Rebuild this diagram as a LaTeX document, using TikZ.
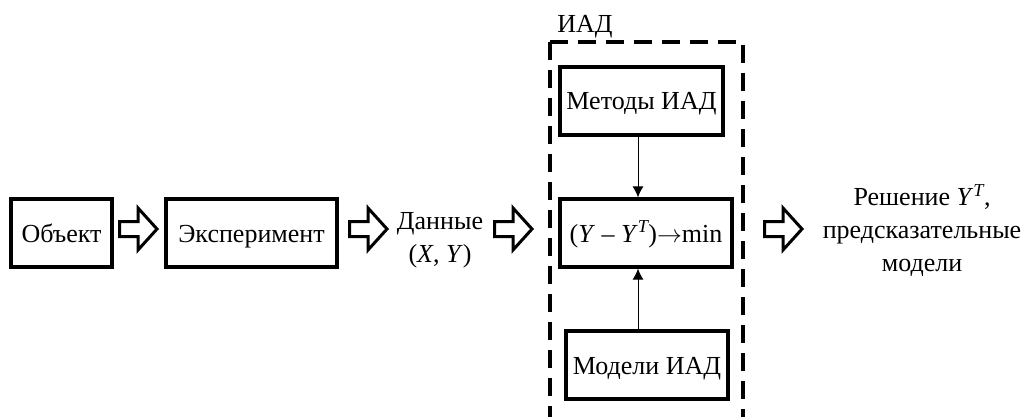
\documentclass[tikz,border=0pt]{standalone}
\usepackage{fontspec}
\setmainfont{Liberation Serif}
\usetikzlibrary{arrows.meta}
\newcommand{\supT}{\textsuperscript{\itshape T}}
\tikzset{
  every node/.style={font=\fontsize{26}{33}\selectfont, inner sep=0pt},
  blockbox/.style={draw, line width=3.2pt, minimum height=68pt, align=center,
    text height=18pt, text depth=0pt},
  plaintext/.style={align=center},
  thinarrow/.style={line width=1pt, -{Latex[length=11pt,width=11pt]}},
  groupline/.style={line width=4pt, dash pattern=on 18pt off 10pt},
  pics/hollowarrow/.style={code={
    \draw[line width=3pt, line join=miter, miter limit=10]
      (1.5,-7.5) -- (20,-7.5) -- (20,-21) -- (39,0) -- (20,21) -- (20,7.5)
      -- (1.5,7.5) -- cycle;
  }}
}
\begin{document}
\begin{tikzpicture}[x=1pt, y=-1pt]
\useasboundingbox (0,0) rectangle (1027,417);
\clip (0,0) rectangle (1027,417);

% main chain
\node[blockbox, minimum width=101pt] (obj) at (61.5,233) {Объект};
\node[blockbox, minimum width=171pt] (exp) at (251.5,233) {Эксперимент};
\node[plaintext] (data) at (440,240) {Данные\\(\textit{X}, \textit{Y})};

% data mining group
\node[plaintext] (grp) at (585,27) {ИАД};
\node[blockbox, minimum width=163pt] (met) at (641.5,101) {Методы ИАД};
\node[blockbox, minimum width=172pt] (opt) at (646,233) {(\textit{Y} – \textit{Y}\supT)$\rightarrow$min};
\node[blockbox, minimum width=162pt] (mdl) at (647,365) {Модели ИАД};
\node[plaintext] (res) at (922,231) {Решение \textit{Y}\supT,\\предсказательные\\модели};

% dashed frame of the group
\coordinate (fTL) at (550,42);
\coordinate (fTR) at (743,42);
\draw[groupline] (fTL) -- (fTL |- 0,430);
\draw[groupline] (fTL) -- (fTR) -- (fTR |- 0,430);

% hollow block arrows
\pic at (118,229) {hollowarrow};
\pic at (348,229) {hollowarrow};
\pic at (493,229) {hollowarrow};
\pic at (763,229) {hollowarrow};

% inputs of the optimisation block
\coordinate (axis) at (638,0);
\draw[thinarrow] (met.south -| axis) -- (opt.north -| axis);
\draw[thinarrow] (mdl.north -| axis) -- (opt.south -| axis);
\end{tikzpicture}
\end{document}
